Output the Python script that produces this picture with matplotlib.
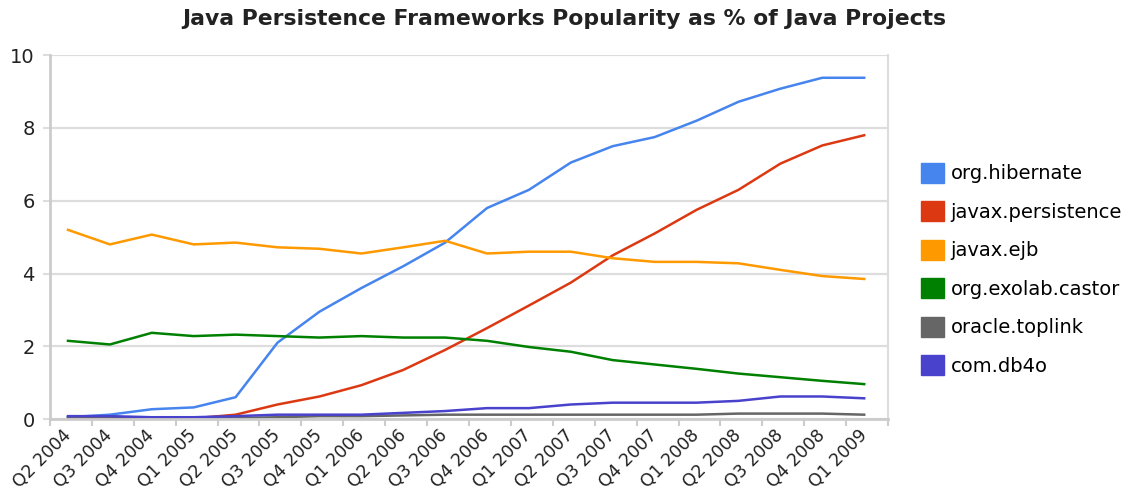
import matplotlib.pyplot as plt
from matplotlib.patches import Rectangle

quarters = ['Q2 2004', 'Q3 2004', 'Q4 2004', 'Q1 2005', 'Q2 2005', 'Q3 2005', 'Q4 2005',
            'Q1 2006', 'Q2 2006', 'Q3 2006', 'Q4 2006', 'Q1 2007', 'Q2 2007', 'Q3 2007',
            'Q4 2007', 'Q1 2008', 'Q2 2008', 'Q3 2008', 'Q4 2008', 'Q1 2009']

hibernate = [0.05, 0.12, 0.27, 0.32, 0.6, 2.1, 2.95, 3.6, 4.2, 4.85, 5.8, 6.3, 7.05,
             7.5, 7.75, 8.2, 8.72, 9.08, 9.38, 9.38]
persistence = [0.0, 0.0, 0.0, 0.02, 0.12, 0.4, 0.62, 0.93, 1.35, 1.9, 2.5, 3.12, 3.75,
               4.5, 5.1, 5.75, 6.3, 7.02, 7.52, 7.8]
ejb = [5.2, 4.8, 5.07, 4.8, 4.85, 4.72, 4.68, 4.55, 4.72, 4.9, 4.55, 4.6, 4.6,
       4.42, 4.32, 4.32, 4.28, 4.1, 3.93, 3.85]
castor = [2.15, 2.05, 2.37, 2.28, 2.32, 2.28, 2.24, 2.28, 2.24, 2.24, 2.15, 1.98, 1.85,
          1.62, 1.5, 1.38, 1.25, 1.15, 1.05, 0.96]
toplink = [0.05, 0.05, 0.03, 0.03, 0.03, 0.05, 0.08, 0.08, 0.1, 0.12, 0.12, 0.12, 0.12,
           0.12, 0.12, 0.12, 0.15, 0.15, 0.15, 0.12]
db4o = [0.08, 0.08, 0.05, 0.05, 0.08, 0.12, 0.12, 0.12, 0.17, 0.22, 0.3, 0.3, 0.4,
        0.45, 0.45, 0.45, 0.5, 0.62, 0.62, 0.57]

series = [
    ('org.hibernate', hibernate, '#4684EE'),
    ('javax.persistence', persistence, '#DC3912'),
    ('javax.ejb', ejb, '#FF9900'),
    ('org.exolab.castor', castor, '#008000'),
    ('oracle.toplink', toplink, '#666666'),
    ('com.db4o', db4o, '#4942CC'),
]

plt.rcParams['font.family'] = ['DejaVu Sans']

fig = plt.figure(figsize=(11.28, 4.93), dpi=100)
ax = fig.add_axes([0.0443, 0.150, 0.743, 0.738])

x = list(range(len(quarters)))
for name, vals, color in series:
    ax.plot(x, vals, color=color, linewidth=1.8, solid_joinstyle='round')

ax.set_ylim(0, 10)
ax.set_xlim(-0.43, 19.52)
ax.set_yticks([0, 2, 4, 6, 8, 10])
ax.grid(axis='y', color='#dddddd', linewidth=1.6)
ax.set_axisbelow(True)

ax.set_xticks(x)
ax.set_xticklabels(quarters, rotation=45, ha='right', va='center',
                   rotation_mode='anchor', fontsize=12.5, color='#222222')
ax.tick_params(axis='x', which='major', length=0, pad=10)
ax.set_xticks([i - 0.43 for i in range(len(quarters) + 1)], minor=True)
ax.tick_params(axis='x', which='minor', length=5, width=1.5, color='#cccccc')
ax.tick_params(axis='y', length=5, width=1.5, color='#dddddd', labelsize=14,
               labelcolor='#222222', pad=6)

ax.spines['top'].set_visible(False)
for side in ['left', 'bottom']:
    ax.spines[side].set_color('#cccccc')
    ax.spines[side].set_linewidth(2)
ax.spines['right'].set_color('#dddddd')
ax.spines['right'].set_linewidth(1.5)

title = fig.text(0.5, 0.962, 'Java Persistence Frameworks Popularity as % of Java Projects',
                 ha='center', va='center', fontsize=13, fontweight='bold', color='#222222')
# scale the title so it spans roughly the same width as the reference
fig.canvas.draw()
w = title.get_window_extent().width
title.set_fontsize(13 * 758 / w)

handles = [Rectangle((0, 0), 1, 1, color=c) for _, _, c in series]
ax.legend(handles, [n for n, _, _ in series], loc='upper left',
          bbox_to_anchor=(921 / 1128, 1 - 163 / 493), bbox_transform=fig.transFigure,
          frameon=False, fontsize=14, handlelength=1.18, handleheight=1.18,
          labelspacing=0.93, handletextpad=0.35, borderaxespad=0, borderpad=0)

plt.savefig('out.png', dpi=100)
